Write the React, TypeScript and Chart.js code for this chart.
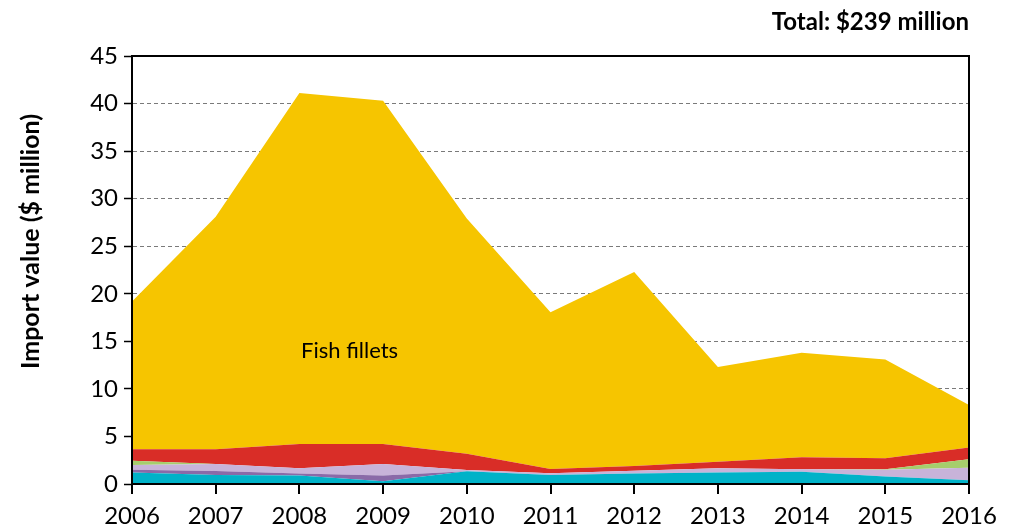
import React, { useEffect, useRef } from "react";
import { Chart, registerables } from "chart.js";

Chart.register(...registerables);

const years = ["2006", "2007", "2008", "2009", "2010", "2011", "2012", "2013", "2014", "2015", "2016"];
const cyanSeries = [1.2, 0.95, 0.9, 0.3, 1.35, 0.95, 1.1, 1.2, 1.3, 0.8, 0.4];
const purpleSeries = [0.3, 0.42, 0.2, 0.6, 0.0, 0.0, 0.0, 0.0, 0.0, 0.0, 0.0];
const lavenderSeries = [0.5, 0.73, 0.55, 1.2, 0.12, 0.17, 0.3, 0.45, 0.25, 0.7, 1.3];
const greenSeries = [0.45, 0.0, 0.0, 0.0, 0.0, 0.0, 0.0, 0.0, 0.0, 0.05, 0.9];
const redSeries = [1.2, 1.55, 2.55, 2.1, 1.7, 0.45, 0.5, 0.7, 1.25, 1.15, 1.25];
const fishFillets = [15.55, 24.45, 36.9, 36.1, 24.75, 16.5, 20.4, 9.95, 11.0, 10.4, 4.45];
const yTicks = [0, 5, 10, 15, 20, 25, 30, 35, 40, 45];

const FONT = "Lato, 'Open Sans', sans-serif";

export default function App() {
  const ref = useRef<HTMLCanvasElement | null>(null);
  useEffect(() => {
    const canvas = ref.current;
    if (!canvas) return;
    const ds = (label: string, data: number[], color: string, fill: any) => ({
      label,
      data,
      backgroundColor: color,
      borderColor: color,
      borderWidth: 0,
      pointRadius: 0,
      tension: 0,
      fill,
    });
    const framePlugin = {
      id: "frame",
      afterDraw(chart: any) {
        const { ctx, chartArea } = chart;
        ctx.save();
        ctx.strokeStyle = "#000";
        ctx.lineWidth = 2;
        ctx.strokeRect(chartArea.left, chartArea.top, chartArea.right - chartArea.left, chartArea.bottom - chartArea.top);
        const xs = chart.scales.x;
        const ys = chart.scales.y;
        ctx.fillStyle = "#000";
        ctx.font = `22px ${FONT}`;
        ctx.textAlign = "center";
        ctx.textBaseline = "middle";
        const px = xs.getPixelForValue(2) + 0.6 * (xs.getPixelForValue(3) - xs.getPixelForValue(2));
        ctx.fillText("Fish fillets", px, ys.getPixelForValue(14));
        ctx.font = `bold 24px ${FONT}`;
        ctx.textAlign = "right";
        ctx.fillText("Total: $239 million", chartArea.right, 22);
        // y-axis title
        ctx.save();
        ctx.translate(31, ys.getPixelForValue(25.5));
        ctx.rotate(-Math.PI / 2);
        ctx.textAlign = "center";
        ctx.font = `bold 25px ${FONT}`;
        ctx.fillText("Import value ($ million)", 0, 0);
        ctx.restore();
        ctx.restore();
      },
    };
    const chart = new Chart(canvas, {
      type: "line",
      data: {
        labels: years,
        datasets: [
          ds("Other A", cyanSeries, "#00B2C8", "origin"),
          ds("Other B", purpleSeries, "#8A6AA8", "-1"),
          ds("Other C", lavenderSeries, "#C8B3D9", "-1"),
          ds("Other D", greenSeries, "#A6CE6C", "-1"),
          ds("Other E", redSeries, "#D92D27", "-1"),
          ds("Fish fillets", fishFillets, "#F6C500", "-1"),
        ],
      },
      options: {
        animation: false,
        responsive: false,
        layout: { padding: { top: 56, right: 40, left: 0, bottom: 0 } },
        plugins: { legend: { display: false }, tooltip: { enabled: false } },
        scales: {
          x: {
            offset: false,
            afterFit(scale: any) {
              scale.height = 47;
            },
            grid: { drawOnChartArea: false, drawTicks: true, tickLength: 10, color: "#000", lineWidth: 2 },
            border: { display: true, color: "#000", width: 2 },
            ticks: { color: "#000", font: { family: FONT, size: 24 }, padding: 8, maxRotation: 0, autoSkip: false },
          },
          y: {
            stacked: true,
            min: 0,
            max: 45,
            afterBuildTicks(scale: any) {
              scale.ticks = yTicks.map((v) => ({ value: v }));
            },
            afterFit(scale: any) {
              scale.width = 132;
            },
            grid: {
              color: (c: any) => (c.tick && (c.tick.value === 0 || c.tick.value === 45) ? "rgba(0,0,0,0)" : "#7a7a7a"),
              tickColor: "#000",
              tickLength: 8,
              lineWidth: 1,
              tickWidth: 1.5,
            },
            border: { display: true, color: "#000", width: 2, dash: [4, 3] },
            ticks: { color: "#000", font: { family: FONT, size: 24 }, padding: 6 },
            title: { display: false },
          },
        },
      },
      plugins: [framePlugin],
    });
    return () => chart.destroy();
  }, []);
  return (
    <div style={{ position: "fixed", left: 0, top: 0, width: 1009, height: 531, background: "#fff" }}>
      <canvas ref={ref} width={1009} height={531} style={{ width: 1009, height: 531 }} />
    </div>
  );
}
